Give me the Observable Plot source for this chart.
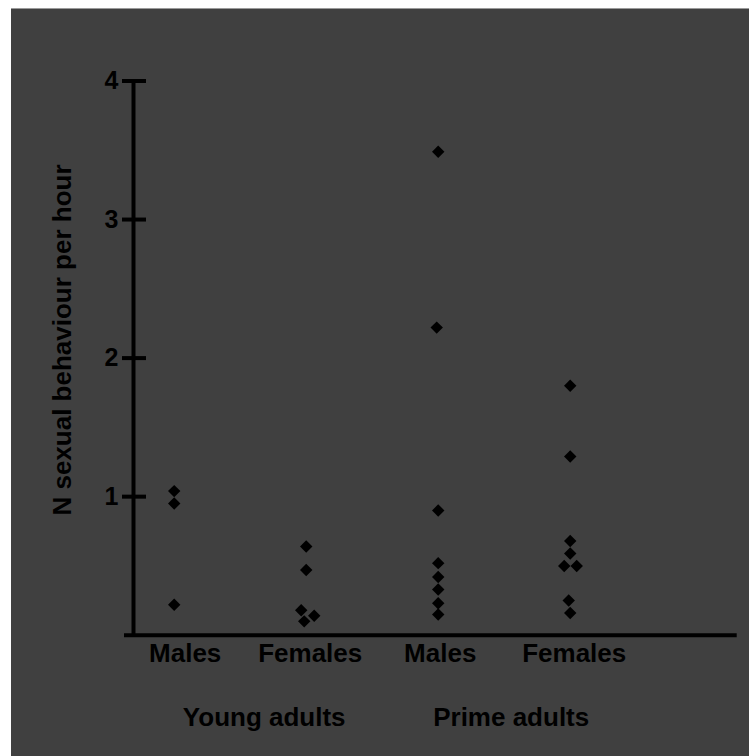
<!DOCTYPE html>
<html>
<head>
<meta charset="utf-8">
<script src="https://cdn.jsdelivr.net/npm/d3@7"></script>
<script src="https://cdn.jsdelivr.net/npm/@observablehq/plot@0.6"></script>
<style>
  html, body { margin: 0; padding: 0; background: #ffffff; }
  #chart { position: absolute; left: 11px; top: 9px; width: 738px; height: 747px; background: #404040; box-shadow: 0 -1px 0 #9a9a9a; }
  #chart svg { display: block; }
</style>
</head>
<body>
<div id="chart"></div>
<script>
// ---- data ----
const categories = ["Males", "Females", "Males", "Females"];
const groups = ["Young adults", "Prime adults"];
const youngMales   = [1.04, 0.95, 0.22];
const youngFemales = [0.64, 0.47, 0.18, 0.14, 0.10];
const primeMales   = [3.49, 2.22, 0.90, 0.52, 0.42, 0.33, 0.23, 0.15];
const primeFemales = [1.80, 1.29, 0.68, 0.59, 0.50, 0.50, 0.25, 0.16];
const yTicks = [1, 2, 3, 4];
const yLabel = "N sexual behaviour per hour";

// ---- layout / style (not data) ----
const W = 738, H = 747;
const xMin = 0.6917, xMax = 5.265;
const mLeft = 122, mRight = 12.3, mTop = 71.5, mBottom = 121.3;
const pxPerUnit = (W - mLeft - mRight) / (xMax - xMin);
// horizontal spread of overlapping diamonds (pixels)
const jitterPx = [
  [0, 0, 0],
  [0, 0, -5, 8, -2],
  [0, -1.5, 0, 0, 0, 0, 0, 0],
  [0, 0, 0, 0, -6, 6.5, -1.5, 0]
];
const labelNudgePx = [11, 4, 2, 4];
const groupNudgePx = [24, 7];

const series = [youngMales, youngFemales, primeMales, primeFemales];
const points = series.flatMap((vals, k) =>
  vals.map((v, j) => ({cat: k + 1, value: v, j: jitterPx[k][j] || 0}))
);

const font = "'Liberation Sans', Arial, Helvetica, sans-serif";

const plot = Plot.plot({
  width: W,
  height: H,
  marginLeft: mLeft,
  marginRight: mRight,
  marginTop: mTop,
  marginBottom: mBottom,
  style: {background: "#404040", color: "#000", fontFamily: font, overflow: "visible"},
  x: {domain: [xMin, xMax], axis: null},
  y: {domain: [0, 4], axis: null},
  marks: [
    // x axis line (extends a little left of the y axis)
    Plot.ruleY([0], {stroke: "#000", strokeWidth: 4, insetLeft: -9}),
    // y axis line
    Plot.ruleX([xMin], {y1: 0, y2: 4, stroke: "#000", strokeWidth: 4}),
    // y ticks crossing the axis
    Plot.ruleY(yTicks, {y: d => d, x1: xMin, x2: xMin, insetLeft: -11, insetRight: -13, stroke: "#000", strokeWidth: 4}),
    // y tick labels
    Plot.text(yTicks, {x: xMin, y: d => d, text: d => String(d), textAnchor: "end", dx: -15, fontSize: 25, fontWeight: "bold", fill: "#000"}),
    // y axis title
    Plot.text([yLabel], {frameAnchor: "top-left", text: d => d, rotate: -90, dx: -71, dy: 259, fontSize: 26, fontWeight: "bold", textAnchor: "middle", lineAnchor: "middle", fill: "#000"}),
    // data points
    Plot.dot(points, {x: d => d.cat + d.j / pxPerUnit, y: "value", symbol: "diamond2", r: 5.6, fill: "#000", stroke: null}),
    // category labels
    Plot.text(categories, {x: (d, i) => i + 1 + labelNudgePx[i] / pxPerUnit, frameAnchor: "bottom", text: d => d, lineAnchor: "top", dy: 8, fontSize: 26, fontWeight: "bold", fill: "#000"}),
    // group labels
    Plot.text(groups, {x: (d, i) => 1.5 + 2 * i + groupNudgePx[i] / pxPerUnit, frameAnchor: "bottom", text: d => d, lineAnchor: "top", dy: 72, fontSize: 26, fontWeight: "bold", fill: "#000"})
  ]
});
document.getElementById("chart").appendChild(plot);
</script>
</body>
</html>
